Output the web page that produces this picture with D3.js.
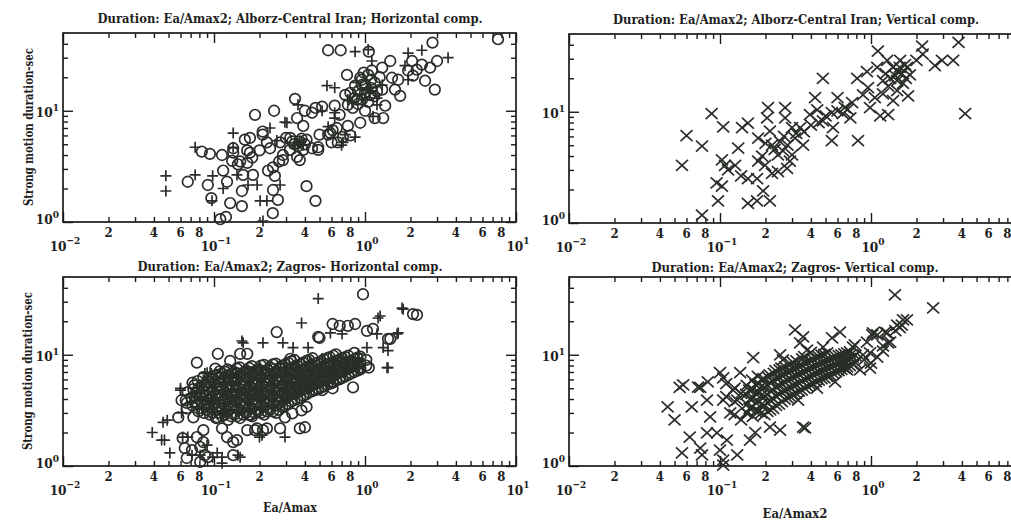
<!DOCTYPE html>
<html>
<head>
<meta charset="utf-8">
<script src="https://cdn.jsdelivr.net/npm/d3@7"></script>
<style>
  html, body { margin: 0; padding: 0; background: #fff; }
  svg { display: block; }
  text {
    font-family: "DejaVu Serif Condensed", "DejaVu Serif", "Liberation Serif", serif;
    font-stretch: condensed;
    font-weight: bold;
    fill: #1e1e1e;
  }
</style>
</head>
<body>
<svg id="chart" width="1011" height="520"></svg>
<script>
// ---- text ----
const panelTitles = [
  "Duration: Ea/Amax2; Alborz-Central Iran; Horizontal comp.",
  "Duration: Ea/Amax2; Alborz-Central Iran; Vertical comp.",
  "Duration: Ea/Amax2; Zagros- Horizontal comp.",
  "Duration: Ea/Amax2; Zagros- Vertical comp."
];
const yAxisTitle = "Strong motion duration-sec";
const xAxisTitles = ["Ea/Amax", "Ea/Amax2"];

// ---- ticks ----
const xMajorExp = [-2, -1, 0, 1];
const xMinorMult = [2, 3, 4, 5, 6, 7, 8, 9];
const xLabelMult = [2, 4, 6, 8];
const yMajorExp = [0, 1];
const yMinorVals = [2, 3, 4, 5, 6, 7, 8, 9, 20, 30, 40];
const xDomain = [0.01, 10];
const yDomain = [1, 50];

// ---- Alborz-Central Iran, horizontal: [Ea/Amax, duration s] ----
const tlCircles = [
  [0.57,35],[0.69,35],[1.06,34],[2.8,41],[7.6,44],
  [0.067,2.3],[0.083,4.3],[0.094,4.1],[0.113,4.0],[0.091,2.15],[0.096,1.64],[0.115,2.9],[0.122,2.3],[0.128,1.48],
  [0.11,1.06],[0.12,1.11],[0.153,1.39],[0.153,1.9],[0.156,2.65],[0.166,3.4],[0.173,5.7],[0.187,9.2],[0.21,6.1],
  [0.25,10],[0.245,1.2],[0.265,1.58],[0.246,1.94],[0.228,2.9],[0.253,2.6],[0.27,3.5],[0.181,2.65],[0.179,3.8],
  [0.134,4.6],[0.132,3.55],[0.144,3.3],[0.166,4.4],[0.2,4.4],[0.224,5.2],[0.286,4.0],[0.30,5.7],
  [0.344,12.8],[0.32,5.7],[0.37,3.6],[0.41,2.1],[0.47,1.55],[0.49,4.7],[0.60,5.2],[0.57,6.1],[0.61,6.7],
  [0.80,6.0],[0.77,7.3],[0.68,9.2],[0.63,11.1],[0.47,10.6],[0.40,10],[0.355,8.6],[0.39,7.3],
  [0.76,21],[0.74,13.9],[0.86,16.8],[0.93,19.8],[1.05,21],[0.955,12.6],[1.08,13.9],[1.16,17.9],[1.30,24.4],
  [1.47,28],[1.30,15.5],[1.36,11.1],[1.32,8.6],[1.16,8.6],[1.0,10],[0.93,7.8],[0.83,10.6],[1.11,23],
  [1.51,19.8],[1.66,19],[1.71,13.6],[1.58,15.5],[2.05,28],[2.2,23.4],[2.5,18.6],[2.9,15.5],[3.0,28],
  [2.7,24.4],[1.93,23],[2.08,20.7],[2.38,26],[1.0,14.5],[0.885,12.6],[0.77,11.3],[0.955,17.1],
  [0.16,5.5],[0.21,6.5],[0.446,9.6],[0.52,10.9],[0.33,5.3],[0.41,5.5],[0.49,4.45],[0.50,6.1],[0.59,6.3],
  [0.65,7.0],[0.715,5.8],[0.66,5.2],
  [0.134,4.2],[0.149,3.5],[0.173,4.2],[0.235,4.6],[0.274,5.2],[0.318,4.45],[0.355,3.85],[0.286,3.6],
  [0.246,3.1],[0.39,4.45],[0.446,4.6],
  [0.9,15],[1.0,17],[1.1,16],[0.95,19],[1.2,15],[0.85,13],[1.05,12],[1.15,13.5],[0.9,11.5],[1.25,20],
  [0.8,14.5],[1.1,19],[0.98,22],
  [0.34,5.0],[0.37,5.3],[0.4,5.0],[0.36,4.8],[0.38,5.6]
];
const tlPluses = [
  [0.048,2.6],[0.048,1.9],[0.075,4.7],[0.075,2.65],[0.098,2.6],[0.097,1.55],[0.134,6.3],[0.211,1.02],
  [0.202,1.55],[0.224,1.55],[0.274,2.15],[0.235,7.0],[0.261,5.4],[0.304,7.8],[0.193,2.15],[0.115,2.0],
  [0.86,34],[1.05,35.5],[0.56,16.8],[0.63,16.1],[0.36,11.3],[0.52,10],[0.63,8.6],[0.715,5.2],[0.74,6.1],
  [1.93,33],[2.38,35],[3.55,30],[1.11,28],[1.84,25.4],[1.2,11.3],[0.63,9.6],[0.344,4.6],[0.134,4.7],
  [0.295,7.9],[0.37,5.2],[0.57,7.2],[0.70,4.9],[1.93,19],[0.77,12.6],[1.08,14.5],[1.13,8.9],[0.86,5.8],
  [0.142,2.65],[0.168,2.15],
  [0.95,14],[1.05,16],[0.88,18],[1.2,13],[0.82,12],[1.3,17],[1.0,12.5],[0.36,5.1],[0.39,4.9]
];

// ---- Alborz-Central Iran, vertical ----
const trCrosses = [
  [0.056,3.3],[0.060,6.1],[0.076,4.9],[0.088,9.6],[0.105,7.3],[0.076,1.18],[0.097,1.58],[0.095,2.3],
  [0.103,2.15],[0.103,3.7],[0.108,3.3],[0.113,3.0],[0.126,3.3],[0.132,4.7],[0.14,7.2],[0.153,7.9],
  [0.138,2.65],[0.153,2.5],[0.176,2.5],[0.153,1.5],[0.176,1.58],[0.193,1.94],[0.214,1.58],[0.179,5.8],
  [0.19,4.0],[0.208,10.9],[0.205,8.8],[0.214,6.7],[0.221,5.0],[0.242,4.1],[0.261,4.45],[0.27,10.9],
  [0.27,8.8],[0.30,7.2],[0.278,3.1],[0.221,2.8],[0.179,3.6],[0.199,3.3],[0.242,2.9],[0.30,4.1],[0.29,3.6],
  [0.314,5.8],[0.34,7.2],[0.355,5.0],[0.394,9.4],[0.426,13.4],[0.44,10.4],[0.48,20],[0.48,8.3],[0.55,5.5],
  [0.56,7.2],[0.60,13.4],[0.60,10.2],[0.67,10.9],[0.75,12.1],[0.73,8.8],[0.82,5.5],[0.81,20],[0.94,23],
  [0.885,14.2],[0.985,10.9],[0.955,16.5],[1.06,13.4],[1.11,35],[1.10,25],[1.15,9.2],[1.30,9.4],[1.28,29],
  [1.34,20],[1.40,12.6],[1.51,23],[1.56,29],[1.63,18],[1.73,25],[1.76,13.9],[1.49,15.5],[1.81,21.5],
  [2.0,29],[2.18,39],[2.2,33],[2.65,26],[2.95,29],[3.5,29],[3.8,42],[4.2,9.6],[1.49,19],[1.2,19],
  [1.68,26.5],[1.4,25],
  [0.23,4.6],[0.25,5.4],[0.28,5.0],[0.2,5.2],[0.265,6.0],[0.32,6.4],[0.36,6.6],[0.4,7.6],[0.45,8.0],
  [0.5,9.2],[0.55,9.8],[0.65,9.6],[0.7,10.5],[1.2,14.5],[1.3,17],[1.45,21],[1.6,22],[1.7,20],[1.25,22],[1.55,25]
];

// ---- Zagros, horizontal ----
const blCircles = [
  [0.97,35],[2.21,22.8],[0.26,16],[0.49,14.5],[0.68,18.2],[0.86,18.9],[1.03,16.4],[0.077,8.5],[0.106,10.2],
  [0.149,10.2],[0.32,9.2],[1.47,13.9],[0.52,4.8],[0.61,5.0],[0.33,2.97],[0.37,2.18],[0.295,2.74],[0.38,3.16],
  [0.062,1.78],[0.0715,1.39],[0.066,1.18],[0.087,1.25],[0.085,1.64],[0.081,1.09],[0.122,1.82],[0.134,1.64],
  [0.134,1.25],[0.187,2.1],[0.211,2.1],[0.173,2.85],[0.113,2.18],[0.066,3.7],[0.102,6.5],[0.166,10.2],
  [0.128,8.8],[0.50,14.2],[0.77,18.2],[1.13,17.1],[1.42,13.9],[2.08,23.2],[1.06,7.65],[0.93,7.65],[0.61,5.6],
  [0.41,3.4],[0.40,2.23],[0.274,2.18],[0.224,2.18],[0.193,2.18],[0.166,2.1],[0.142,1.71],[0.085,2.1],
  [0.081,1.48],[0.091,1.2],[0.064,1.45],[0.061,3.9],[0.058,2.74],[0.105,2.74],[0.073,2.74],[0.122,5.1],
  [0.527,6.9],[0.833,5.1],[0.077,1.82],[0.61,18.9],
  [0.066,3.3],[0.065,3.9],[0.067,4.6],
  [0.072,3.5],[0.071,4.1],[0.073,4.9],[0.072,5.6],
  [0.079,3.1],[0.078,3.6],[0.080,4.3],[0.079,5.0],[0.078,5.8],
  [0.086,3.0],[0.087,3.5],[0.085,4.0],[0.086,4.7],[0.088,5.4],[0.085,6.3],
  [0.094,2.9],[0.093,3.4],[0.095,3.9],[0.094,4.5],[0.092,5.2],[0.096,6.0],
  [0.103,2.7],[0.104,3.2],[0.102,3.7],[0.103,4.3],[0.105,4.9],[0.101,5.7],[0.104,6.6],[0.102,7.5],
  [0.113,2.8],[0.112,3.3],[0.114,3.8],[0.113,4.4],[0.111,5.1],[0.115,5.9],[0.113,6.8],
  [0.124,2.6],[0.123,3.1],[0.125,3.6],[0.124,4.2],[0.122,4.8],[0.126,5.5],[0.124,6.4],[0.123,7.4],
  [0.136,2.9],[0.135,3.4],[0.137,3.9],[0.136,4.5],[0.134,5.2],[0.138,6.0],[0.136,7.0],
  [0.149,2.7],[0.148,3.2],[0.150,3.7],[0.149,4.3],[0.147,4.9],[0.151,5.7],[0.149,6.6],[0.148,7.7],
  [0.163,3.0],[0.162,3.5],[0.164,4.1],[0.163,4.7],[0.161,5.4],[0.165,6.2],[0.163,7.2],
  [0.179,2.8],[0.178,3.3],[0.180,3.8],[0.179,4.4],[0.177,5.0],[0.181,5.8],[0.179,6.8],[0.178,7.9],
  [0.196,3.1],[0.195,3.6],[0.197,4.2],[0.196,4.8],[0.194,5.5],[0.198,6.4],[0.196,7.4],
  [0.215,2.9],[0.214,3.4],[0.216,3.9],[0.215,4.5],[0.213,5.2],[0.217,6.0],[0.215,7.0],[0.214,8.1],
  [0.235,3.2],[0.234,3.7],[0.236,4.3],[0.235,5.0],[0.233,5.7],[0.237,6.6],[0.235,7.7],
  [0.258,3.0],[0.257,3.5],[0.259,4.0],[0.258,4.6],[0.256,5.3],[0.260,6.1],[0.258,7.1],[0.257,8.3],
  [0.283,3.4],[0.282,3.9],[0.284,4.5],[0.283,5.2],[0.281,6.0],[0.285,6.9],[0.283,8.0],
  [0.31,3.6],[0.309,4.2],[0.312,4.8],[0.31,5.5],[0.308,6.3],[0.313,7.3],[0.31,8.5],
  [0.34,3.9],[0.339,4.5],[0.342,5.1],[0.34,5.9],[0.337,6.8],[0.343,7.8],[0.34,9.0],
  [0.372,4.1],[0.37,4.7],[0.374,5.4],[0.372,6.2],[0.369,7.1],[0.375,8.2],
  [0.408,4.4],[0.406,5.0],[0.41,5.8],[0.408,6.6],[0.405,7.6],[0.411,8.8],
  [0.447,4.7],[0.445,5.3],[0.449,6.1],[0.447,7.0],[0.444,8.1],[0.45,9.3],
  [0.49,4.9],[0.488,5.6],[0.492,6.5],[0.49,7.4],[0.487,8.5],
  [0.537,5.2],[0.535,6.0],[0.539,6.9],[0.537,7.9],[0.534,9.1],
  [0.588,5.5],[0.586,6.3],[0.59,7.2],[0.588,8.3],[0.585,9.5],
  [0.645,5.9],[0.643,6.7],[0.647,7.7],[0.645,8.8],[0.642,10.1],
  [0.707,6.2],[0.705,7.1],[0.709,8.1],[0.707,9.3],
  [0.775,6.6],[0.773,7.5],[0.777,8.6],[0.775,9.8],
  [0.85,7.0],[0.848,8.0],[0.852,9.1],[0.85,10.4],
  [0.93,7.4],[0.928,8.4],[0.932,9.6],
  [1.02,8.0],[1.02,9.0],
  [0.075,3.8],[0.076,4.5],[0.074,5.3],
  [0.083,3.3],[0.082,3.8],[0.084,4.4],[0.083,5.1],
  [0.09,3.2],[0.091,3.7],[0.089,4.2],[0.09,4.9],[0.091,5.7],
  [0.098,3.0],[0.099,3.6],[0.097,4.1],[0.098,4.7],[0.1,5.5],[0.097,6.4],
  [0.108,3.0],[0.109,3.5],[0.107,4.0],[0.108,4.6],[0.11,5.4],[0.107,6.2],[0.109,7.1],
  [0.118,2.9],[0.119,3.4],[0.117,3.9],[0.118,4.5],[0.12,5.2],[0.117,6.1],[0.119,7.0],
  [0.13,2.8],[0.131,3.3],[0.129,3.8],[0.13,4.4],[0.132,5.1],[0.129,5.9],[0.131,6.8],
  [0.142,2.8],[0.143,3.3],[0.141,3.8],[0.142,4.4],[0.144,5.1],[0.141,5.9],[0.143,6.8],[0.142,7.5],
  [0.156,2.9],[0.157,3.4],[0.155,3.9],[0.156,4.5],[0.158,5.2],[0.155,6.0],[0.157,6.9],
  [0.171,2.9],[0.172,3.4],[0.17,3.9],[0.171,4.5],[0.173,5.2],[0.17,6.0],[0.172,7.0],[0.171,7.6],
  [0.187,3.0],[0.188,3.5],[0.186,4.0],[0.187,4.6],[0.189,5.3],[0.186,6.1],[0.188,7.1],
  [0.205,3.0],[0.206,3.5],[0.204,4.1],[0.205,4.7],[0.207,5.4],[0.204,6.2],[0.206,7.2],[0.205,8.0],
  [0.225,3.1],[0.226,3.6],[0.224,4.1],[0.225,4.7],[0.227,5.4],[0.224,6.3],[0.226,7.3],
  [0.246,3.1],[0.247,3.6],[0.245,4.2],[0.246,4.8],[0.248,5.5],[0.245,6.4],[0.247,7.4],[0.246,8.2],
  [0.27,3.2],[0.271,3.7],[0.269,4.3],[0.27,4.9],[0.272,5.6],[0.269,6.5],[0.271,7.6],
  [0.296,3.5],[0.297,4.0],[0.295,4.6],[0.296,5.3],[0.298,6.1],[0.295,7.0],[0.297,8.2],
  [0.325,3.8],[0.326,4.4],[0.324,5.0],[0.325,5.7],[0.327,6.6],[0.324,7.6],[0.326,8.7],
  [0.356,4.0],[0.357,4.6],[0.355,5.2],[0.356,6.0],[0.358,6.9],[0.355,8.0],
  [0.39,4.3],[0.391,4.9],[0.389,5.6],[0.39,6.4],[0.392,7.4],[0.389,8.5],
  [0.427,4.6],[0.428,5.2],[0.426,5.9],[0.427,6.8],[0.429,7.8],[0.426,9.0],
  [0.468,4.8],[0.469,5.5],[0.467,6.3],[0.468,7.2],[0.47,8.3],
  [0.513,5.1],[0.514,5.8],[0.512,6.7],[0.513,7.6],[0.515,8.7],
  [0.562,5.4],[0.563,6.2],[0.561,7.1],[0.562,8.1],[0.564,9.3],
  [0.616,5.7],[0.617,6.5],[0.615,7.4],[0.616,8.5],[0.618,9.8],
  [0.676,6.0],[0.677,6.9],[0.675,7.9],[0.676,9.0],
  [0.74,6.4],[0.741,7.3],[0.739,8.4],[0.74,9.5],
  [0.81,6.8],[0.811,7.8],[0.809,8.8],
  [0.89,7.2],[0.891,8.2],[0.889,9.4]
];
const blPluses = [
  [0.49,32],[0.38,19.3],[1.79,25.7],[1.22,21.4],[1.42,10.9],[1.42,7.65],[1.66,15.7],[1.2,15.4],[0.153,13.3],
  [0.211,12.8],[0.334,11.6],[0.42,11.6],[0.087,6.8],[0.06,4.8],[0.046,2.47],[0.039,2.0],[0.047,1.71],
  [0.051,1.31],[0.067,1.82],[0.081,1.25],[0.113,1.2],[0.149,1.2],[0.295,1.82],[0.2,1.82],[0.061,3.0],
  [0.098,1.2],[0.09,1.54],[0.062,1.82],[1.26,22.3],[1.76,26.3],[1.63,15.4],[1.4,7.65],[1.32,11.6],
  [0.59,15.7],[0.286,12.8],[0.156,12.8],[0.705,15.4],[0.06,5.0],[0.049,2.58],[0.045,1.71],[0.0715,1.25],
  [0.105,1.31],[0.144,1.25],[0.113,1.06],[0.208,1.89],[0.09,6.9],[0.085,5.9],[0.115,2.97],[0.077,3.4],
  [1.03,11.6],
  [0.07,3.7],[0.071,4.4],
  [0.083,3.3],[0.082,4.1],[0.084,5.1],
  [0.098,3.1],[0.097,3.8],[0.099,4.7],[0.098,5.6],[0.096,6.8],
  [0.118,3.0],[0.117,3.6],[0.119,4.6],[0.118,5.5],[0.116,6.4],
  [0.142,3.1],[0.141,3.9],[0.143,4.8],[0.142,5.8],[0.14,6.9],
  [0.17,3.2],[0.169,4.0],[0.171,5.0],[0.17,6.0],[0.168,7.3],
  [0.205,3.3],[0.204,4.1],[0.206,5.1],[0.205,6.2],[0.203,7.6],
  [0.245,3.4],[0.244,4.3],[0.246,5.4],[0.245,6.5],
  [0.295,3.8],[0.294,4.7],[0.296,5.7],[0.295,7.0],[0.293,8.3],
  [0.355,4.3],[0.354,5.2],[0.356,6.4],[0.355,7.6],
  [0.43,4.9],[0.429,5.9],[0.431,7.2],[0.43,8.6],
  [0.52,5.5],[0.519,6.6],[0.521,7.8],[0.52,9.2],
  [0.62,6.1],[0.619,7.3],[0.621,8.6],
  [0.74,6.7],[0.739,7.9],[0.741,9.5],
  [0.9,7.7],[0.899,8.8],[0.901,10.2]
];

// ---- Zagros, vertical ----
const brCrosses = [
  [1.44,34.5],[2.58,26.4],[0.045,3.4],[0.054,5.1],[0.065,3.4],[0.056,1.31],[0.063,1.82],[0.074,5.1],
  [0.083,5.7],[0.076,1.26],[0.105,1.02],[0.1,6.9],[0.166,9.4],[0.314,16.7],[0.366,2.2],[0.623,16],
  [0.985,7.6],[1.28,15.7],[1.73,20.6],[1.63,20.6],[1.49,18.5],[1.24,16],[1.02,15.1],[0.355,14.5],[0.25,10],
  [0.552,14.2],[0.76,11.7],[0.845,7.3],[0.057,5.35],[0.0715,5.13],[0.05,2.6],[0.074,1.45],[0.086,2.76],
  [0.082,1.98],[0.0955,1.98],[0.1,1.39],[0.111,1.71],[0.13,1.26],[0.105,1.13],[0.105,6.2],[0.136,6.9],
  [0.122,4.8],[0.13,3.9],[0.151,3.0],[0.158,1.71],[0.171,2.0],[0.214,2.24],[0.25,2.1],[0.355,2.24],
  [0.329,3.9],[0.439,5.0],[0.578,5.7],[0.694,7.3],[0.985,10.4],[1.3,12.8],[1.03,15.7],[0.339,12.8],
  [0.377,11.0],[0.481,11.7],[0.261,9.0],[0.105,3.9],[0.117,3.0],[0.082,3.9],
  [1.10,15.1],[1.34,13],[0.94,13],[0.78,12.3],[0.73,10],[0.885,10],[0.67,8.6],[0.11,4.2],[0.11,5.5],
  [0.125,5.0],[0.125,3.8],[0.125,2.9],[0.138,4.5],[0.138,2.6],[0.4,10.5],[0.9,9.0],[1.0,8.4],[1.1,9.5],
  [1.2,10.8],[1.2,12.0],[1.45,16.5],[1.55,17.5],[1.6,18.5],
  [0.15,3.0],[0.151,3.6],[0.149,4.4],[0.15,5.3],
  [0.165,2.8],[0.164,3.4],[0.166,4.1],[0.165,4.9],[0.163,5.9],
  [0.18,3.1],[0.179,3.8],[0.181,4.6],[0.18,5.5],[0.178,6.4],
  [0.197,2.9],[0.196,3.5],[0.198,4.2],[0.197,5.1],[0.195,6.1],
  [0.215,3.2],[0.214,3.9],[0.216,4.7],[0.215,5.6],[0.213,6.6],
  [0.235,3.5],[0.234,4.3],[0.236,5.2],[0.235,6.2],[0.233,7.2],
  [0.257,3.8],[0.256,4.6],[0.258,5.5],[0.257,6.5],[0.255,7.6],
  [0.28,4.1],[0.279,4.9],[0.281,5.9],[0.28,7.0],
  [0.305,4.4],[0.304,5.3],[0.306,6.3],[0.305,7.4],[0.303,8.6],
  [0.333,4.7],[0.332,5.6],[0.334,6.7],[0.333,7.9],
  [0.363,5.0],[0.362,6.0],[0.364,7.1],[0.363,8.4],[0.361,9.6],
  [0.396,5.4],[0.395,6.4],[0.397,7.6],[0.396,8.9],
  [0.432,5.7],[0.431,6.8],[0.433,8.0],[0.432,9.4],
  [0.47,6.1],[0.469,7.2],[0.471,8.5],[0.47,9.9],
  [0.513,6.4],[0.512,7.6],[0.514,8.9],[0.513,10.4],
  [0.56,6.8],[0.559,8.0],[0.561,9.4],
  [0.61,7.2],[0.609,8.4],[0.611,9.8],
  [0.665,7.6],[0.664,8.8],[0.666,10.2],
  [0.725,8.0],[0.724,9.3],[0.726,10.6],
  [0.79,8.5],[0.789,9.8],
  [0.157,3.3],[0.158,4.0],[0.156,4.8],
  [0.172,3.1],[0.173,3.7],[0.171,4.5],[0.172,5.4],
  [0.188,3.0],[0.189,3.6],[0.187,4.3],[0.188,5.2],[0.19,6.0],
  [0.206,3.1],[0.207,3.7],[0.205,4.4],[0.206,5.3],[0.208,6.3],
  [0.225,3.3],[0.226,4.0],[0.224,4.8],[0.225,5.8],[0.227,6.8],
  [0.246,3.6],[0.247,4.4],[0.245,5.3],[0.246,6.3],[0.248,7.3],
  [0.268,4.0],[0.269,4.8],[0.267,5.7],[0.268,6.7],[0.27,7.8],
  [0.292,4.2],[0.293,5.1],[0.291,6.1],[0.292,7.2],[0.294,8.2],
  [0.319,4.5],[0.32,5.4],[0.318,6.5],[0.319,7.6],[0.321,8.8],
  [0.348,4.8],[0.349,5.8],[0.347,6.9],[0.348,8.1],[0.35,9.2],
  [0.38,5.2],[0.381,6.2],[0.379,7.3],[0.38,8.6],
  [0.414,5.5],[0.415,6.6],[0.413,7.8],[0.414,9.1],
  [0.451,5.9],[0.452,7.0],[0.45,8.2],[0.451,9.6],
  [0.491,6.2],[0.492,7.4],[0.49,8.7],[0.491,10.1],
  [0.536,6.6],[0.537,7.8],[0.535,9.1],
  [0.585,7.0],[0.586,8.2],[0.584,9.6],
  [0.637,7.4],[0.638,8.6],[0.636,10.0],
  [0.695,7.8],[0.696,9.0],[0.694,10.4],
  [0.757,8.2],[0.758,9.5]
];

// ---- layout ----
const frameInk = "#1b1b1b";
const markInk = "#2a2e29";

const panels = [
  { box: {left: 63,  right: 516,  top: 33,  bottom: 222}, title: {x: 290, y: 23,  w: 385},
    series: [{data: tlCircles, shape: "circle"}, {data: tlPluses, shape: "plus"}], yTitle: {x: 28, y: 127} },
  { box: {left: 569, right: 1022, top: 34,  bottom: 223}, title: {x: 796, y: 24,  w: 366},
    series: [{data: trCrosses, shape: "cross"}] },
  { box: {left: 63,  right: 516,  top: 277, bottom: 466}, title: {x: 290, y: 271, w: 305},
    series: [{data: blCircles, shape: "circle"}, {data: blPluses, shape: "plus"}], yTitle: {x: 27, y: 371},
    xTitle: {text: xAxisTitles[0], x: 290, y: 512, w: 54} },
  { box: {left: 569, right: 1022, top: 277, bottom: 466}, title: {x: 795, y: 272, w: 287},
    series: [{data: brCrosses, shape: "cross"}],
    xTitle: {text: xAxisTitles[1], x: 795, y: 518, w: 65} }
];

const svg = d3.select("#chart");
svg.append("rect").attr("width", 1011).attr("height", 520).attr("fill", "#fff");

const symbolPath = {
  plus: "M-5.5,0H5.5M0,-5.5V5.5",
  cross: "M-6,-5.5L6,5.5M-6,5.5L6,-5.5"
};

const xMajorVals = xMajorExp.map(e => Math.pow(10, e));
const xMinorVals = [];
xMajorExp.slice(0, -1).forEach(e => xMinorMult.forEach(m => xMinorVals.push(+(m * Math.pow(10, e)).toPrecision(3))));
const xLabelVals = [];
xMajorExp.slice(0, -1).forEach(e => xLabelMult.forEach(m => xLabelVals.push({v: +(m * Math.pow(10, e)).toPrecision(3), m})));
const yMajorVals = yMajorExp.map(e => Math.pow(10, e));

function styleAxis(g) {
  g.select(".domain").remove();
  g.selectAll(".tick line").attr("stroke", frameInk).attr("stroke-width", 1.4);
  g.selectAll(".tick text").remove();
}

panels.forEach((p, i) => {
  const b = p.box;
  const x = d3.scaleLog().domain(xDomain).range([b.left, b.right]);
  const y = d3.scaleLog().domain(yDomain).range([b.bottom, b.top]);
  const g = svg.append("g").attr("class", "panel panel-" + i);

  // tick marks pointing inward on all four sides
  const minorLen = 5, majorLen = 10;
  g.append("g").attr("transform", `translate(0,${b.bottom})`)
    .call(d3.axisBottom(x).tickValues(xMinorVals).tickSize(-minorLen).tickFormat("")).call(styleAxis);
  g.append("g").attr("transform", `translate(0,${b.bottom})`)
    .call(d3.axisBottom(x).tickValues(xMajorVals).tickSize(-majorLen).tickFormat("")).call(styleAxis);
  g.append("g").attr("transform", `translate(0,${b.top})`)
    .call(d3.axisTop(x).tickValues(xMinorVals).tickSize(-minorLen).tickFormat("")).call(styleAxis);
  g.append("g").attr("transform", `translate(0,${b.top})`)
    .call(d3.axisTop(x).tickValues(xMajorVals).tickSize(-majorLen).tickFormat("")).call(styleAxis);
  g.append("g").attr("transform", `translate(${b.left},0)`)
    .call(d3.axisLeft(y).tickValues(yMinorVals).tickSize(-minorLen).tickFormat("")).call(styleAxis);
  g.append("g").attr("transform", `translate(${b.left},0)`)
    .call(d3.axisLeft(y).tickValues(yMajorVals).tickSize(-majorLen).tickFormat("")).call(styleAxis);
  g.append("g").attr("transform", `translate(${b.right},0)`)
    .call(d3.axisRight(y).tickValues(yMinorVals).tickSize(-minorLen).tickFormat("")).call(styleAxis);
  g.append("g").attr("transform", `translate(${b.right},0)`)
    .call(d3.axisRight(y).tickValues(yMajorVals).tickSize(-majorLen).tickFormat("")).call(styleAxis);

  // frame
  g.append("rect")
    .attr("x", b.left).attr("y", b.top)
    .attr("width", b.right - b.left).attr("height", b.bottom - b.top)
    .attr("fill", "none").attr("stroke", frameInk).attr("stroke-width", 1.7);

  // minor x labels (2 4 6 8)
  g.append("g").selectAll("text").data(xLabelVals).join("text")
    .attr("x", d => x(d.v)).attr("y", b.bottom + 15)
    .attr("text-anchor", "middle").attr("font-size", 13)
    .text(d => d.m);

  // decade x labels
  const xm = g.append("g").selectAll("text").data(xMajorExp).join("text")
    .attr("x", d => x(Math.pow(10, d)) + 2).attr("y", b.bottom + 29)
    .attr("text-anchor", "middle").attr("font-size", 13.5);
  xm.append("tspan").text("10");
  xm.append("tspan").attr("dy", -7).attr("font-size", 10).text(d => String(d).replace("-", "\u2212"));

  // decade y labels
  const ym = g.append("g").selectAll("text").data(yMajorExp).join("text")
    .attr("x", b.left - 4).attr("y", d => y(Math.pow(10, d)) + (d === 0 ? 2 : 6))
    .attr("text-anchor", "end").attr("font-size", 13.5);
  ym.append("tspan").text("10");
  ym.append("tspan").attr("dy", -6).attr("font-size", 10).text(d => d);

  // markers
  p.series.forEach(s => {
    const mg = g.append("g").attr("class", "series-" + s.shape)
      .attr("fill", "none").attr("stroke", markInk).attr("stroke-width", 1.7);
    if (s.shape === "circle") {
      mg.selectAll("circle").data(s.data).join("circle")
        .attr("cx", d => x(d[0])).attr("cy", d => y(d[1])).attr("r", 5.3);
    } else {
      mg.selectAll("path").data(s.data).join("path")
        .attr("transform", d => `translate(${x(d[0])},${y(d[1])})`)
        .attr("d", symbolPath[s.shape]);
    }
  });

  // titles
  g.append("text")
    .attr("x", p.title.x).attr("y", p.title.y)
    .attr("text-anchor", "middle").attr("font-size", 12.5)
    .attr("textLength", p.title.w).attr("lengthAdjust", "spacingAndGlyphs")
    .text(panelTitles[i]);

  if (p.yTitle) {
    g.append("text")
      .attr("transform", `translate(${p.yTitle.x},${p.yTitle.y}) rotate(-90)`)
      .attr("text-anchor", "middle").attr("dominant-baseline", "central")
      .attr("font-size", 12.5)
      .attr("textLength", 158).attr("lengthAdjust", "spacingAndGlyphs")
      .text(yAxisTitle);
  }
  if (p.xTitle) {
    g.append("text")
      .attr("x", p.xTitle.x).attr("y", p.xTitle.y)
      .attr("text-anchor", "middle").attr("font-size", 13)
      .attr("textLength", p.xTitle.w).attr("lengthAdjust", "spacingAndGlyphs")
      .text(p.xTitle.text);
  }
});
</script>
</body>
</html>
